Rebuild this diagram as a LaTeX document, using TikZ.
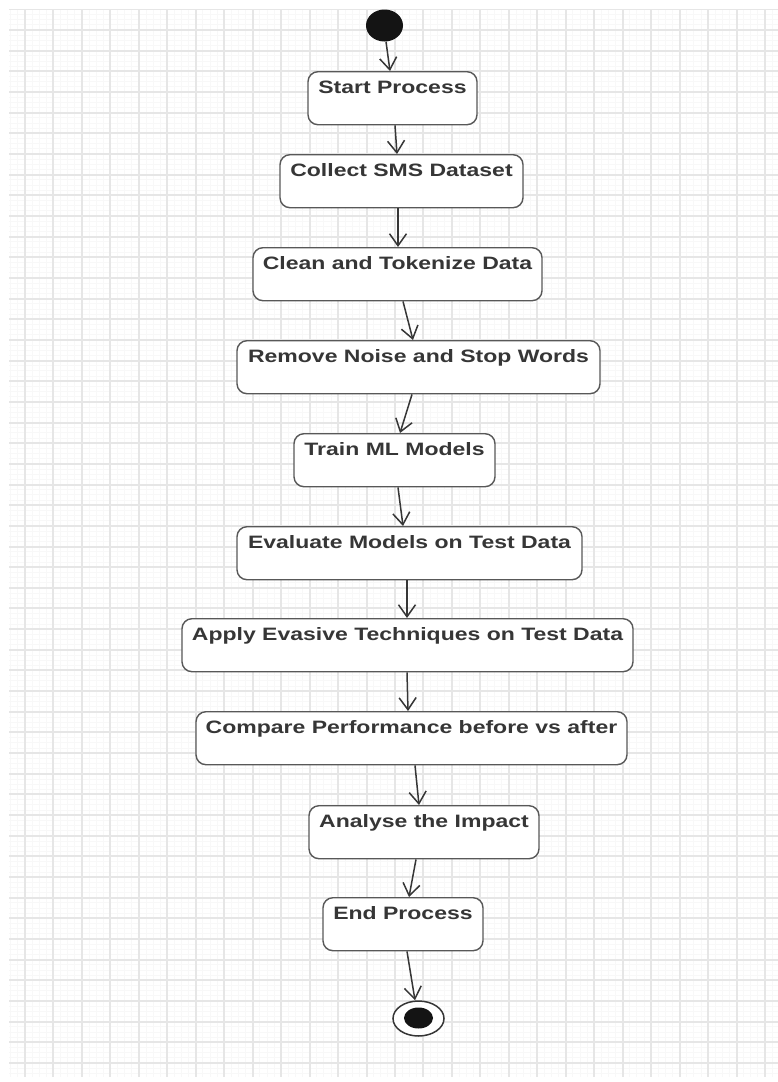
\documentclass[tikz,border=0pt]{standalone}
\usepackage{fontspec}
\setmainfont{Liberation Sans}
\usetikzlibrary{arrows.meta,shapes.geometric}
\definecolor{gridmajor}{HTML}{E6E6E6}
\definecolor{gridminor}{HTML}{F8F8F8}
\definecolor{boxline}{HTML}{585858}
\definecolor{inkgray}{HTML}{363636}
\newcommand{\squash}[1]{\scalebox{1}[0.78]{#1}}
\tikzset{
  activity/.style={draw=boxline, line width=1.4pt, fill=white, rounded corners=10pt,
    anchor=north, inner xsep=0pt, inner ysep=0pt, text height=22pt, text depth=31pt,
    font=\fontsize{23}{26}\selectfont\bfseries, text=inkgray},
  flow/.style={draw=inkgray, line width=1.5pt,
    -{Straight Barb[length=12pt,width=17pt,line width=1.5pt]}},
  blob/.style={ellipse, fill=black!92, draw=none, inner sep=0pt},
}
\begin{document}
\begin{tikzpicture}[x=1pt, y=-1pt]
\useasboundingbox (0,0) rectangle (778,1082);
\fill[white] (0,0) rectangle (778,1082);

% background grid
\begin{scope}
  \clip (9,9) rectangle (778,1077);
  \foreach \k in {-4,...,108}
    \draw[gridminor, line width=0.8pt] ({25+7.115*\k},9) -- ({25+7.115*\k},1077);
  \foreach \k in {-4,...,204}
    \draw[gridminor, line width=0.8pt] (9,{30+5.165*\k}) -- (778,{30+5.165*\k});
  \foreach \k in {0,...,26}
    \draw[gridmajor, line width=2pt] ({25+28.46*\k},9) -- ({25+28.46*\k},1077);
  \foreach \k in {-1,...,50}
    \draw[gridmajor, line width=2pt] (9,{30+20.66*\k}) -- (778,{30+20.66*\k});
\end{scope}

% initial and final states
\node[blob, minimum width=37pt, minimum height=32pt] (start) at (384.5,25.5) {};
\node[ellipse, draw=inkgray, line width=1.5pt, fill=white, inner sep=0pt,
      minimum width=51pt, minimum height=35pt] (final) at (418.5,1018.5) {};
\node[blob, minimum width=29pt, minimum height=21pt] (finaldot) at (418.5,1018) {};

% activities
\node[activity, minimum width=169pt] (n1)  at (392.5,71)  {\squash{Start Process}};
\node[activity, minimum width=243pt] (n2)  at (401.5,154) {\squash{Collect SMS Dataset}};
\node[activity, minimum width=289pt] (n3)  at (397.5,247) {\squash{Clean and Tokenize Data}};
\node[activity, minimum width=363pt] (n4)  at (418.5,340) {\squash{Remove Noise and Stop Words}};
\node[activity, minimum width=201pt] (n5)  at (394.5,433) {\squash{Train ML Models}};
\node[activity, minimum width=345pt] (n6)  at (409.5,526) {\squash{Evaluate Models on Test Data}};
\node[activity, minimum width=451pt] (n7)  at (407.5,618) {\squash{Apply Evasive Techniques on Test Data}};
\node[activity, minimum width=431pt] (n8)  at (411.5,711) {\squash{Compare Performance before vs after}};
\node[activity, minimum width=230pt] (n9)  at (424,805)   {\squash{Analyse the Impact}};
\node[activity, minimum width=160pt] (n10) at (403,897)   {\squash{End Process}};

% control flow
\draw[flow] ([xshift=1.5pt]start.south) -- ([xshift=-2.5pt]n1.north);
\draw[flow] ([xshift=2.5pt]n1.south)  -- ([xshift=-4.5pt]n2.north);
\draw[flow] ([xshift=-3.5pt]n2.south) -- ([xshift=0.5pt]n3.north);
\draw[flow] ([xshift=5.5pt]n3.south)  -- ([xshift=-5.5pt]n4.north);
\draw[flow] ([xshift=-6.5pt]n4.south) -- ([xshift=5.5pt]n5.north);
\draw[flow] ([xshift=3.5pt]n5.south)  -- ([xshift=-6.5pt]n6.north);
\draw[flow] ([xshift=-2.5pt]n6.south) -- ([xshift=-0.5pt]n7.north);
\draw[flow] ([xshift=-0.5pt]n7.south) -- ([xshift=-3.5pt]n8.north);
\draw[flow] ([xshift=3.5pt]n8.south)  -- ([xshift=-5pt]n9.north);
\draw[flow] ([xshift=-8pt]n9.south)   -- ([xshift=6pt]n10.north);
\draw[flow] ([xshift=4pt]n10.south)   -- ([xshift=-3.5pt]final.north);
\end{tikzpicture}
\end{document}
